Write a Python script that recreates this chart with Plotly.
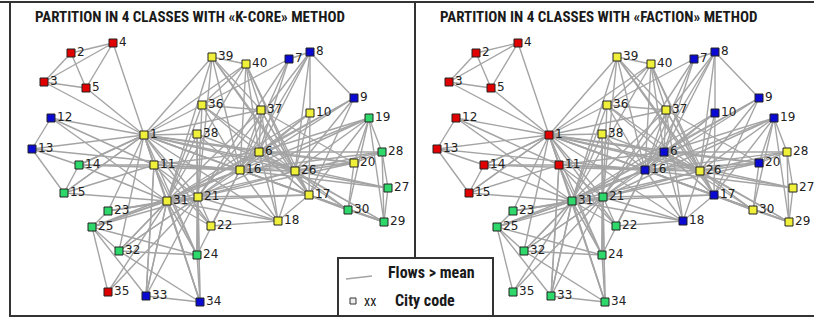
import plotly.graph_objects as go

# ---------------- data ----------------
city_ids = list(range(1, 41))
# layout coordinates of each city in the network drawing (graph layout units)
city_x = [144, 71, 44, 113, 86, 259, 289, 310, 354, 310,
          154, 51, 32, 79, 64, 240, 309, 278, 369, 354,
          198, 211, 108, 197, 92, 295, 388, 382, 384, 348,
          167, 119, 146, 200, 108, 202, 261, 197, 212, 246]
city_y = [135, 53, 82, 43, 88, 152, 59, 52, 98, 113,
          165, 118, 149, 165, 193, 170, 195, 221, 118, 163,
          197, 226, 211, 255, 227, 171, 188, 152, 222, 210,
          201, 251, 296, 302, 292, 105, 110, 134, 57, 64]

# class of each city (R=red, B=blue, Y=yellow, G=green)
kcore_class = ["Y", "R", "R", "R", "R", "Y", "B", "B", "B", "Y",
               "Y", "B", "B", "G", "G", "Y", "Y", "Y", "G", "Y",
               "Y", "Y", "G", "G", "G", "Y", "G", "G", "G", "G",
               "Y", "G", "B", "B", "R", "Y", "Y", "Y", "Y", "Y"]
faction_class = ["R", "R", "R", "R", "R", "B", "B", "B", "B", "B",
                 "R", "R", "R", "R", "R", "B", "B", "B", "B", "B",
                 "G", "G", "G", "G", "G", "Y", "Y", "Y", "Y", "Y",
                 "G", "G", "G", "G", "G", "Y", "Y", "Y", "Y", "Y"]

# flows > mean (edges between city codes)
flow_from = [2, 2, 3, 3, 4, 3, 4, 5, 2,
             12, 12, 12, 12, 13, 13, 13, 13, 14, 14, 14, 14, 14, 15, 15, 15,
             23, 23, 23, 23, 25, 25, 25, 25, 25, 25, 25, 32, 32, 32, 32, 32,
             35, 35, 33, 33, 33, 33, 34, 34, 34, 24, 24, 24, 24, 24,
             22, 22, 22, 22, 22, 22,
             39, 39, 39, 39, 39, 39, 39, 39, 40, 40, 40, 40, 40, 40, 40, 40,
             7, 7, 7, 7, 7, 8, 8, 8, 8, 8, 8, 9, 9, 9, 9, 9,
             10, 10, 10, 10, 10, 36, 36, 36, 36, 36, 36, 36,
             37, 37, 37, 37, 37, 37, 37, 37, 38, 38, 38, 38, 38, 38,
             19, 19, 19, 19, 19, 19, 19, 19, 19, 28, 28, 28, 28, 28, 28,
             20, 20, 20, 20, 20, 20, 26, 26, 26, 26, 26, 26, 26, 26, 26, 26,
             27, 27, 27, 27, 17, 17, 17, 17, 17, 17, 17, 17, 30, 30, 30,
             18, 18, 18, 18, 18, 29, 29, 29, 6, 6, 6, 6, 6,
             16, 16, 16, 16, 11, 11, 11, 11, 11, 31, 31, 31, 31, 31, 31, 31,
             21, 21, 21, 21, 21, 1, 1, 1]
flow_to = [4, 5, 4, 5, 5, 1, 1, 1, 3,
           1, 13, 11, 31, 1, 16, 15, 14, 11, 1, 16, 31, 15, 31, 1, 11,
           31, 1, 21, 25, 31, 21, 16, 35, 33, 32, 24, 24, 31, 1, 21, 34,
           31, 21, 34, 31, 21, 11, 24, 31, 21, 21, 31, 16, 1, 11,
           21, 31, 18, 16, 11, 1,
           1, 40, 37, 26, 16, 21, 31, 17, 1, 37, 16, 6, 26, 36, 31, 17,
           8, 16, 6, 36, 21, 10, 9, 6, 16, 21, 26, 6, 16, 26, 17, 31,
           16, 6, 17, 26, 31, 1, 37, 26, 16, 21, 31, 17,
           1, 16, 6, 26, 18, 31, 17, 20, 1, 16, 21, 24, 26, 31,
           6, 16, 26, 28, 29, 30, 20, 17, 21, 27, 29, 26, 16, 20, 6,
           16, 26, 6, 1, 30, 21, 16, 6, 1, 17, 18, 21, 31, 29, 30, 11,
           16, 26, 29, 1, 16, 6, 18, 21, 31, 30, 29, 1, 16, 29, 6,
           16, 21, 31, 6, 1, 16, 6, 1, 16, 1, 31, 21, 11,
           1, 11, 31, 21, 1, 31, 21, 33, 34, 1, 21, 24, 25, 32, 33, 34,
           1, 24, 34, 32, 23, 14, 15, 11]

# ---------------- styling ----------------
class_colors = {"R": "#e00000", "B": "#0a0ad2", "Y": "#f0f03a", "G": "#2fd86a"}
edge_color = "#a4a4a4"
label_font = dict(family="DejaVu Sans, Verdana, sans-serif", size=12, color="#222222")
narrow = "Liberation Sans Narrow, Roboto Condensed, Open Sans, sans-serif"
title_font = dict(family=narrow, size=15, color="#1a1a1a")
legend_font = dict(family=narrow, size=16, color="#1a1a1a")

W, H = 814, 319
panel_w = 405

fig = go.Figure()

pos = {c: (x, y) for c, x, y in zip(city_ids, city_x, city_y)}

def add_panel(xref, yref, classes):
    ex, ey = [], []
    for a, b in zip(flow_from, flow_to):
        ex += [pos[a][0], pos[b][0], None]
        ey += [pos[a][1], pos[b][1], None]
    fig.add_trace(go.Scatter(x=ex, y=ey, mode="lines", xaxis=xref, yaxis=yref,
                             line=dict(color=edge_color, width=1.4), cliponaxis=False,
                             hoverinfo="skip", showlegend=False))
    fig.add_trace(go.Scatter(
        x=city_x, y=city_y, mode="markers+text", xaxis=xref, yaxis=yref,
        text=[str(c) for c in city_ids], textposition="middle right",
        textfont=label_font, cliponaxis=False,
        marker=dict(symbol="square", size=8,
                    color=[class_colors[k] for k in classes],
                    line=dict(color="#222222", width=1)),
        hoverinfo="text", showlegend=False))

add_panel("x", "y", kcore_class)
add_panel("x2", "y", faction_class)

ax = dict(visible=False, fixedrange=True)
fig.update_layout(
    width=W, height=H,
    margin=dict(l=0, r=0, t=0, b=0),
    paper_bgcolor="white", plot_bgcolor="rgba(0,0,0,0)",
    xaxis=dict(range=[0, panel_w], domain=[0, panel_w / W], **ax),
    xaxis2=dict(range=[0, W - panel_w], domain=[panel_w / W, 1], **ax),
    yaxis=dict(range=[H, 0], domain=[0, 1], **ax),
)

shapes = [
    # outer frame
    dict(type="line", xref="paper", yref="paper", x0=0, x1=1, y0=1 - 2 / H, y1=1 - 2 / H,
         line=dict(color="#333333", width=2)),
    dict(type="line", xref="paper", yref="paper", x0=10 / W, x1=10 / W, y0=2 / H, y1=1 - 2 / H,
         line=dict(color="#333333", width=2)),
    dict(type="line", xref="paper", yref="paper", x0=10 / W, x1=1, y0=3 / H, y1=3 / H,
         line=dict(color="#333333", width=2)),
    # divider
    dict(type="line", xref="paper", yref="paper", x0=415 / W, x1=415 / W, y0=1 - 258 / H, y1=1 - 2 / H,
         line=dict(color="#333333", width=2)),
    # legend box
    dict(type="rect", xref="paper", yref="paper", x0=338 / W, x1=493 / W, y0=3 / H, y1=1 - 258 / H,
         line=dict(color="#333333", width=2), fillcolor="white", layer="above"),
    dict(type="line", xref="paper", yref="paper", x0=346 / W, x1=372 / W, y0=1 - 279 / H, y1=1 - 276 / H,
         line=dict(color=edge_color, width=1.4), layer="above"),
    dict(type="rect", xref="paper", yref="paper", x0=350 / W, x1=356 / W, y0=1 - 304 / H, y1=1 - 298 / H,
         line=dict(color="#333333", width=1), fillcolor="#eeeeee", layer="above"),
]
fig.update_layout(shapes=shapes)

annotations = [
    dict(text="<b>PARTITION IN 4 CLASSES WITH «K-CORE» METHOD</b>", x=33 / W, y=1 - 17 / H,
         xanchor="left", yanchor="middle", font=title_font),
    dict(text="<b>PARTITION IN 4 CLASSES WITH «FACTION» METHOD</b>", x=438 / W, y=1 - 17 / H,
         xanchor="left", yanchor="middle", font=title_font),
    dict(text="<b>Flows > mean</b>", x=386 / W, y=1 - 272 / H, xanchor="left", yanchor="middle",
         font=legend_font),
    dict(text="xx", x=362 / W, y=1 - 301 / H, xanchor="left", yanchor="middle",
         font=dict(family=narrow, size=14, color="#1a1a1a")),
    dict(text="<b>City code</b>", x=393 / W, y=1 - 300 / H, xanchor="left", yanchor="middle",
         font=legend_font),
]
for a in annotations:
    a.update(xref="paper", yref="paper", showarrow=False)
fig.update_layout(annotations=annotations)

fig.write_html("out.html", config={"displayModeBar": False},
               post_script="document.body.style.margin='0';document.body.style.overflow='hidden';")
